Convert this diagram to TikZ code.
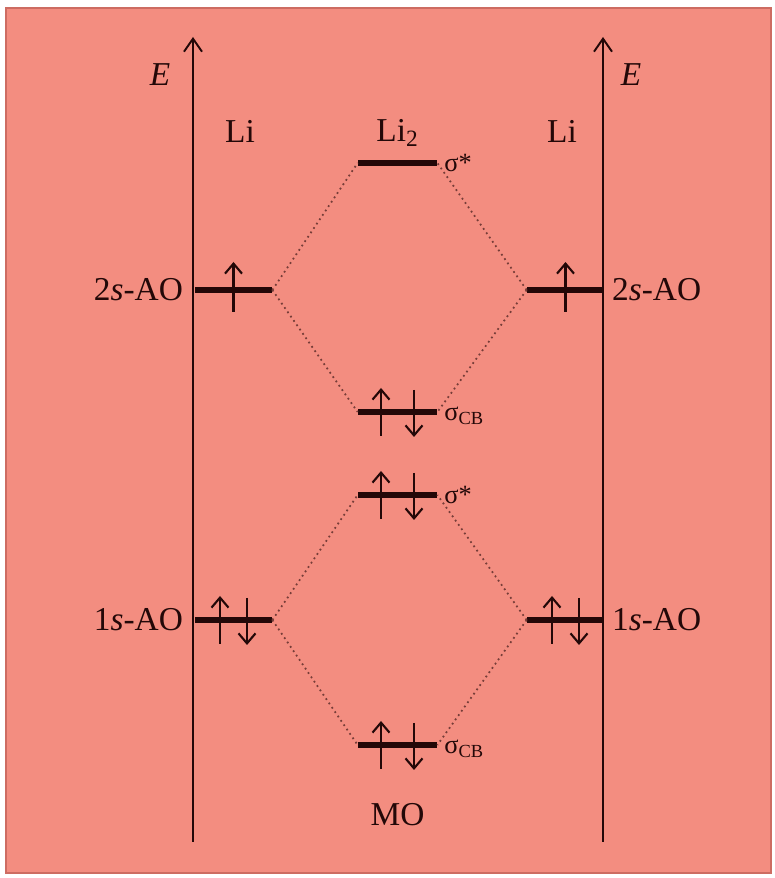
\documentclass[tikz,border=0pt]{standalone}
\usepackage{fontspec}
\setmainfont{Liberation Serif}
\usepackage{xcolor}
\usepackage{tikz}
\usetikzlibrary{arrows.meta}

\definecolor{salmonbg}{RGB}{243,141,128}
\definecolor{salmonrim}{RGB}{205,108,98}
\definecolor{inkdark}{RGB}{35,8,8}

\begin{document}
\begin{tikzpicture}[
    font=\fontsize{19}{22}\selectfont,
    axis/.style={-{Straight Barb[length=2.6mm,width=3.6mm]}, line width=1.1pt, draw=inkdark},
    aolevel/.style={rectangle, fill=inkdark, inner sep=0pt, minimum width=1.54cm, minimum height=3pt},
    molevel/.style={aolevel, minimum width=1.58cm},
    spin/.style={-{Straight Barb[length=2mm,width=3.4mm]}, line width=1.2pt, draw=inkdark},
    corr/.style={dotted, line width=1pt, draw=inkdark!60!salmonbg},
    lbl/.style={text=inkdark, inner sep=1pt},
    mo/.style={lbl, font=\fontsize{15}{17}\selectfont, anchor=west}
]
\useasboundingbox (0,0) rectangle (15.48,17.56);
\fill[salmonbg, draw=salmonrim, line width=1.4pt] (0.12,0.1) rectangle (15.42,17.4);

% ---- Energy axes ----
\coordinate (axLbot) at (3.86,0.72);
\coordinate (axLtop) at (3.86,16.82);
\coordinate (axRbot) at (12.06,0.72);
\coordinate (axRtop) at (12.06,16.82);
\draw[axis] (axLbot) -- (axLtop);
\draw[axis] (axRbot) -- (axRtop);
\node[lbl] (eL) at (3.2,16.06)  {\textit{E}};
\node[lbl] (eR) at (12.62,16.06) {\textit{E}};

% ---- Headings ----
\node[lbl] (liL)  at (4.8,14.94)  {Li};
\node[lbl] (li2)  at (7.95,14.9) {Li\textsubscript{2}};
\node[lbl] (liR)  at (11.24,14.94) {Li};
\node[lbl] (molbl) at (7.95,1.26) {MO};

% ---- Levels ----
\node[aolevel] (ao2L) at (4.67,11.76)  {};
\node[aolevel] (ao2R) at (11.31,11.76) {};
\node[aolevel] (ao1L) at (4.67,5.16)   {};
\node[aolevel] (ao1R) at (11.31,5.16)  {};
\node[molevel] (sstar2) at (7.95,14.3) {};
\node[molevel] (sbond2) at (7.95,9.32) {};
\node[molevel] (sstar1) at (7.95,7.66) {};
\node[molevel] (sbond1) at (7.95,2.66) {};

\node[lbl, anchor=east] at (3.7,11.76)  {2\textit{s}-AO};
\node[lbl, anchor=west] at (12.2,11.76) {2\textit{s}-AO};
\node[lbl, anchor=east] at (3.7,5.16)   {1\textit{s}-AO};
\node[lbl, anchor=west] at (12.2,5.16)  {1\textit{s}-AO};
\node[mo] at ([xshift=0.1cm]sstar2.east) {σ*};
\node[mo] at ([xshift=0.1cm,yshift=-0.08cm]sbond2.east) {σ\textsubscript{CB}};
\node[mo] at ([xshift=0.1cm]sstar1.east) {σ*};
\node[mo] at ([xshift=0.1cm,yshift=-0.08cm]sbond1.east) {σ\textsubscript{CB}};

% ---- Correlation lines ----
\draw[corr] (ao2L.east) -- (sstar2.west);
\draw[corr] (ao2L.east) -- (sbond2.west);
\draw[corr] (ao2R.west) -- (sstar2.east);
\draw[corr] (ao2R.west) -- (sbond2.east);
\draw[corr] (ao1L.east) -- (sstar1.west);
\draw[corr] (ao1L.east) -- (sbond1.west);
\draw[corr] (ao1R.west) -- (sstar1.east);
\draw[corr] (ao1R.west) -- (sbond1.east);

% ---- Electrons ----
\draw[spin] ([yshift=-0.44cm]ao2L.center) -- ++(0,1.0);
\draw[spin] ([yshift=-0.44cm]ao2R.center) -- ++(0,1.0);
\foreach \lev/\dx in {ao1L/0.27, ao1R/0.27, sbond2/0.33, sstar1/0.33, sbond1/0.33} {
    \draw[spin] ([xshift=-\dx cm,yshift=-0.48cm]\lev.center) -- ++(0,0.96);
    \draw[spin] ([xshift=\dx cm,yshift=0.44cm]\lev.center) -- ++(0,-0.94);
}

\end{tikzpicture}
\end{document}
